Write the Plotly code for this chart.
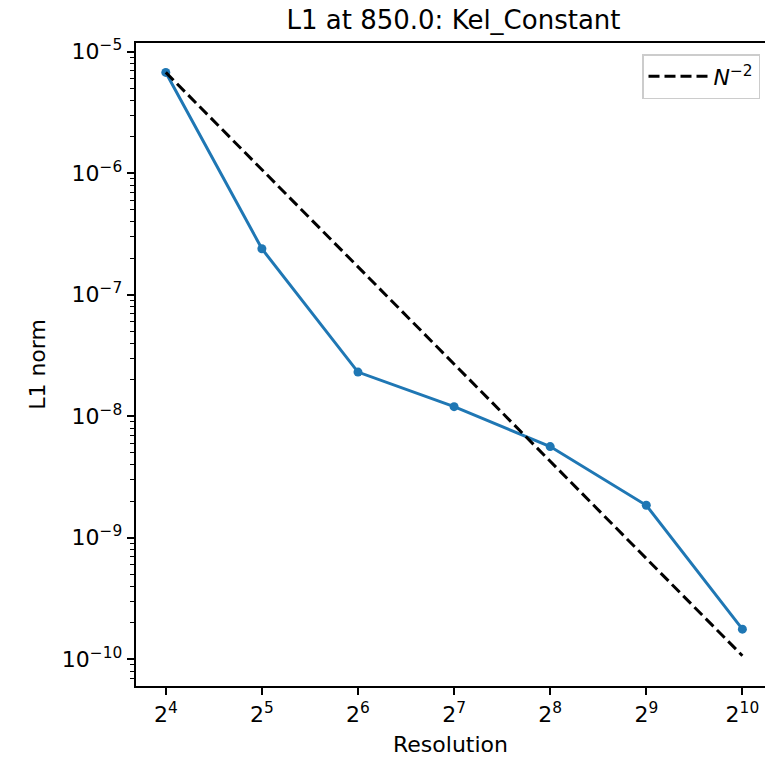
import plotly.graph_objects as go
import math

# ---- data ----
resolution = [16, 32, 64, 128, 256, 512, 1024]
l1_norm = [6.76e-6, 2.39e-7, 2.31e-8, 1.20e-8, 5.63e-9, 1.85e-9, 1.77e-10]
reference_n2 = [6.76e-6, 1.07e-6, 1.70e-7, 2.69e-8, 4.27e-9, 6.76e-10, 1.07e-10]
x_tick_vals = [16, 32, 64, 128, 256, 512, 1024]
x_tick_text = ["2<sup>4</sup>", "2<sup>5</sup>", "2<sup>6</sup>", "2<sup>7</sup>",
               "2<sup>8</sup>", "2<sup>9</sup>", "2<sup>10</sup>"]
y_tick_vals = [1e-5, 1e-6, 1e-7, 1e-8, 1e-9, 1e-10]
y_tick_text = ["10<sup>−5</sup>", "10<sup>−6</sup>", "10<sup>−7</sup>", "10<sup>−8</sup>",
               "10<sup>−9</sup>", "10<sup>−10</sup>"]

FONT = "DejaVu Sans"
W, H = 765, 757
L, R, T, B = 136, 0, 43, 71
FS = 22

fig = go.Figure()
fig.add_trace(go.Scatter(
    x=resolution, y=l1_norm, mode="lines+markers",
    line=dict(color="#1f77b4", width=3),
    marker=dict(color="#1f77b4", size=9),
    showlegend=False,
))
fig.add_trace(go.Scatter(
    x=resolution, y=reference_n2, mode="lines",
    line=dict(color="black", width=3, dash="11px,5px"),
    name="<i>N</i><sup>−2</sup>",
))

log2_lo = 3.69
log2_hi = log2_lo + (W - L - R) / 96.1
xr = [log2_lo * math.log10(2), log2_hi * math.log10(2)]
yr = [-10.220, -4.928]

fig.update_layout(
    width=W, height=H,
    margin=dict(l=L, r=R, t=T, b=B, pad=0),
    paper_bgcolor="white", plot_bgcolor="white",
    font=dict(family=FONT, size=FS, color="black"),
    title=dict(text="L1 at 850.0: Kel_Constant", x=(136 + 771) / 2 / W, xanchor="center",
               y=1 - 20 / H, yanchor="middle", font=dict(size=26, family=FONT, color="black")),
    legend=dict(x=(760 - L) / (W - L - R), xanchor="right",
                y=(H - B - 54) / (H - B - T), yanchor="top",
                bordercolor="#cccccc", borderwidth=1.5, bgcolor="rgba(255,255,255,0.8)",
                font=dict(size=FS, family=FONT), itemwidth=60),
    xaxis=dict(
        type="log", range=xr, tickvals=x_tick_vals, ticktext=x_tick_text,
        showgrid=False, zeroline=False,
        showline=True, linecolor="black", linewidth=1.7, mirror=True,
        ticks="outside", ticklen=7.5, tickwidth=1.7, tickcolor="black",
        title=dict(text="Resolution", standoff=12, font=dict(size=FS)),
    ),
    yaxis=dict(
        type="log", range=yr, tickvals=y_tick_vals, ticktext=y_tick_text,
        showgrid=False, zeroline=False,
        showline=True, linecolor="black", linewidth=1.7, mirror=False,
        ticks="outside", ticklen=7.5, tickwidth=1.7, tickcolor="black",
        minor=dict(ticks="outside", ticklen=4.4, tickwidth=1.3, tickcolor="black",
                   dtick="D1", showgrid=False),
        title=dict(text="L1 norm", standoff=10, font=dict(size=FS)),
    ),
)

fig.write_html("out.html", config={"displayModeBar": False},
               post_script="document.body.style.margin='0';document.body.style.overflow='hidden';")
